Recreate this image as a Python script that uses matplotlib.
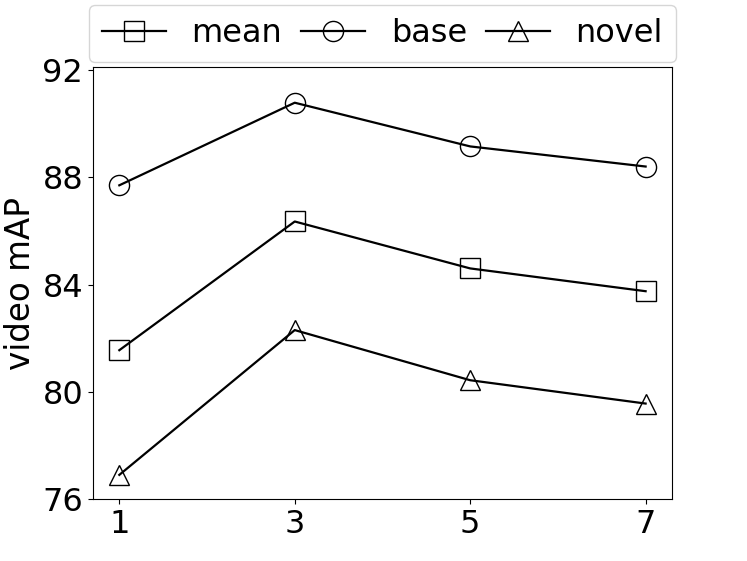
import matplotlib
matplotlib.use('Agg')
import matplotlib.pyplot as plt

# shot settings on x axis
shots = [1, 3, 5, 7]
mean_map = [81.55, 86.35, 84.6, 83.75]
base_map = [87.7, 90.78, 89.15, 88.4]
novel_map = [76.9, 82.3, 80.43, 79.56]
yticks = [76, 80, 84, 88, 92]

fig = plt.figure(figsize=(7.47, 5.61), dpi=100)
ax = fig.add_axes([0.1245, 0.1105, 0.775, 0.7695])

ms = 14.5
ax.plot(shots, mean_map, color='black', marker='s', fillstyle='none', markersize=ms, linewidth=1.6, label='mean')
ax.plot(shots, base_map, color='black', marker='o', fillstyle='none', markersize=ms, linewidth=1.6, label='base')
ax.plot(shots, novel_map, color='black', marker='^', fillstyle='none', markersize=ms, linewidth=1.6, label='novel')

ax.set_xlim(0.7, 7.3)
ax.set_ylim(76, 92.1)
ax.set_xticks(shots)
ax.set_yticks(yticks)
ax.tick_params(labelsize=23)
ax.set_ylabel('video mAP', fontsize=23.5, labelpad=4)

ax.legend(loc='lower center', bbox_to_anchor=(0.5, 1.012), ncol=3, fontsize=23,
          handlelength=2.0, columnspacing=0.6, handletextpad=0.8, borderaxespad=0.0,
          borderpad=0.41)

fig.savefig('out.png', dpi=100)
